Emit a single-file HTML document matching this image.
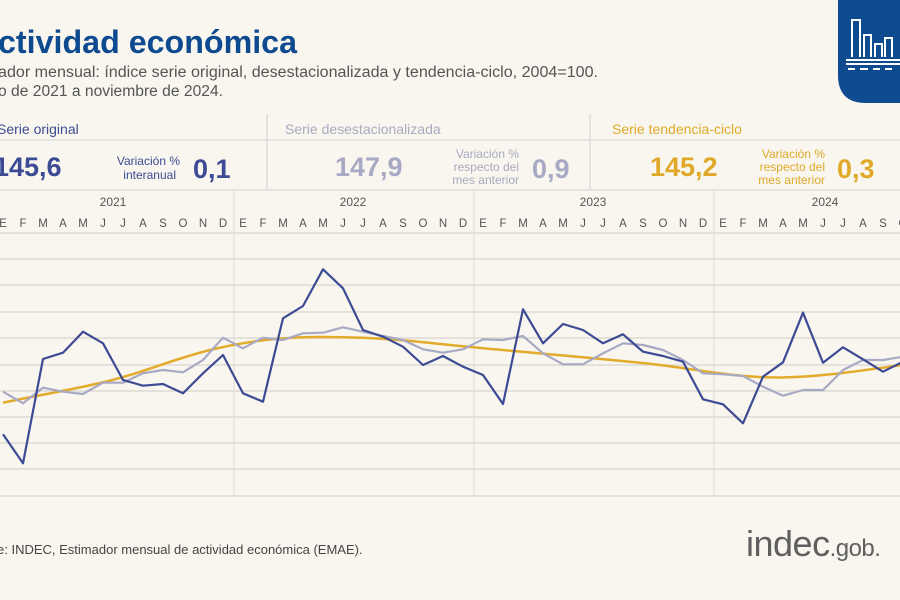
<!DOCTYPE html>
<html><head><meta charset="utf-8"><style>
html,body{margin:0;padding:0;background:#f8f6ee;}
svg{display:block}
text{font-family:"Liberation Sans",sans-serif;}
</style></head><body>
<svg width="900" height="600" viewBox="0 0 900 600" xmlns="http://www.w3.org/2000/svg">
<rect width="900" height="600" fill="#f8f6ee"/>
<path d="M838 0 H900 V103 H866 Q838 103 838 75 Z" fill="#0f4c8f"/>
<g stroke="#fff" stroke-width="2" fill="none">
<path d="M852 57 V20 H860 V57 M864 57 V35 H871 V57 M875 57 V44 H882 V57 M885 57 V38 H892 V57"/>
<path d="M846 60 H900 M846 64 H900"/>
<path d="M848 69 H855 M860 69 H868 M873 69 H880 M885 69 H892"/>
</g>
<text x="-2" y="53" font-size="32" font-weight="bold" fill="#0d4a8f" textLength="299" lengthAdjust="spacingAndGlyphs">ctividad económica</text>
<text x="-2" y="77" font-size="15.5" fill="#555" textLength="600" lengthAdjust="spacingAndGlyphs">ador mensual: índice serie original, desestacionalizada y tendencia-ciclo, 2004=100.</text>
<text x="-2" y="96" font-size="15.5" fill="#555" textLength="225" lengthAdjust="spacingAndGlyphs">o de 2021 a noviembre de 2024.</text>
<g stroke="#ddd" stroke-width="1.5">
<line x1="0" y1="140" x2="900" y2="140"/>
<line x1="0" y1="190" x2="900" y2="190"/>
<line x1="267" y1="114" x2="267" y2="190"/>
<line x1="590" y1="114" x2="590" y2="190"/>
</g>
<text x="-3" y="134" font-size="14" fill="#3d4a94">Serie original</text>
<text x="285" y="134" font-size="14" fill="#aaaabf">Serie desestacionalizada</text>
<text x="612" y="134" font-size="14" fill="#e0a92a">Serie tendencia-ciclo</text>
<text x="-6" y="176" font-size="27" font-weight="bold" fill="#3d4a94">145,6</text>
<text x="180" y="165" font-size="12" fill="#3d4a94" text-anchor="end">Variación %</text>
<text x="176" y="179" font-size="12" fill="#3d4a94" text-anchor="end">interanual</text>
<text x="193" y="178" font-size="27" font-weight="bold" fill="#3d4a94">0,1</text>
<text x="335" y="176" font-size="27" font-weight="bold" fill="#a8a9c4">147,9</text>
<text x="519" y="158" font-size="12" fill="#aaaabf" text-anchor="end">Variación %</text>
<text x="519" y="171" font-size="12" fill="#aaaabf" text-anchor="end">respecto del</text>
<text x="519" y="184" font-size="12" fill="#aaaabf" text-anchor="end">mes anterior</text>
<text x="532" y="178" font-size="27" font-weight="bold" fill="#a8a9c4">0,9</text>
<text x="650" y="176" font-size="27" font-weight="bold" fill="#e0a92a">145,2</text>
<text x="825" y="158" font-size="12" fill="#e0a92a" text-anchor="end">Variación %</text>
<text x="825" y="171" font-size="12" fill="#e0a92a" text-anchor="end">respecto del</text>
<text x="825" y="184" font-size="12" fill="#e0a92a" text-anchor="end">mes anterior</text>
<text x="837" y="178" font-size="27" font-weight="bold" fill="#e0a92a">0,3</text>
<g font-size="12" fill="#555" text-anchor="middle">
<text x="113" y="206">2021</text><text x="353" y="206">2022</text><text x="593" y="206">2023</text><text x="825" y="206">2024</text>
</g>
<g font-size="11.5" fill="#555" text-anchor="middle">
<text x="3" y="227">E</text><text x="23" y="227">F</text><text x="43" y="227">M</text><text x="63" y="227">A</text><text x="83" y="227">M</text><text x="103" y="227">J</text><text x="123" y="227">J</text><text x="143" y="227">A</text><text x="163" y="227">S</text><text x="183" y="227">O</text><text x="203" y="227">N</text><text x="223" y="227">D</text>
<text x="243" y="227">E</text><text x="263" y="227">F</text><text x="283" y="227">M</text><text x="303" y="227">A</text><text x="323" y="227">M</text><text x="343" y="227">J</text><text x="363" y="227">J</text><text x="383" y="227">A</text><text x="403" y="227">S</text><text x="423" y="227">O</text><text x="443" y="227">N</text><text x="463" y="227">D</text>
<text x="483" y="227">E</text><text x="503" y="227">F</text><text x="523" y="227">M</text><text x="543" y="227">A</text><text x="563" y="227">M</text><text x="583" y="227">J</text><text x="603" y="227">J</text><text x="623" y="227">A</text><text x="643" y="227">S</text><text x="663" y="227">O</text><text x="683" y="227">N</text><text x="703" y="227">D</text>
<text x="723" y="227">E</text><text x="743" y="227">F</text><text x="763" y="227">M</text><text x="783" y="227">A</text><text x="803" y="227">M</text><text x="823" y="227">J</text><text x="843" y="227">J</text><text x="863" y="227">A</text><text x="883" y="227">S</text><text x="903" y="227">O</text>
</g>
<g stroke="#dcdad2" stroke-width="1.5">
<line x1="0" y1="233" x2="900" y2="233"/>
<line x1="0" y1="259" x2="900" y2="259"/><line x1="0" y1="285" x2="900" y2="285"/>
<line x1="0" y1="312" x2="900" y2="312"/><line x1="0" y1="338" x2="900" y2="338"/>
<line x1="0" y1="365" x2="900" y2="365"/><line x1="0" y1="391" x2="900" y2="391"/>
<line x1="0" y1="417" x2="900" y2="417"/><line x1="0" y1="443" x2="900" y2="443"/>
<line x1="0" y1="469" x2="900" y2="469"/><line x1="0" y1="496" x2="900" y2="496"/>
</g>
<g stroke="#dcdad2" stroke-width="1">
<line x1="234" y1="190" x2="234" y2="496"/><line x1="474" y1="190" x2="474" y2="496"/><line x1="714" y1="190" x2="714" y2="496"/>
</g>
<path d="M3 402.7 C40 395 70 390 100 383 C140 374 170 360 210 350 C260 338 300 336 343 337.3 C390 338 420 342 460 346 C520 352 600 358 660 365 C700 370 740 378 780 377.5 C820 377 850 372 903 365" fill="none" stroke="#e3ab2c" stroke-width="2.5"/>
<polyline fill="none" stroke="#a8a9c4" stroke-width="2.2" stroke-linejoin="round" points="3,391.7 23,403.3 43,387.7 63,391.7 83,394 103,382.7 123,382.7 143,373.3 163,370 183,372.3 203,360 223,337.7 243,348.3 263,337.7 283,340 303,333.3 323,332.7 343,327.3 363,331.7 383,336 403,340 423,349.3 443,352.7 463,349.3 483,339.3 503,340 523,336 543,353.3 563,364.3 583,364.3 603,353.3 623,343.3 643,345 663,350 683,360 703,373.3 723,374.3 743,376 763,386.7 783,395.7 803,390 823,390 843,370 863,360 883,360 903,356.7"/>
<polyline fill="none" stroke="#3d4a94" stroke-width="2.2" stroke-linejoin="round" points="3,434.3 23,463.3 43,359 63,352.7 83,331.7 103,343.3 123,380 143,385.7 163,384 183,393.3 203,373.3 223,355 243,393.3 263,401.7 283,318.3 303,306 323,269.3 343,288.3 363,330 383,336.7 403,346.7 423,365 443,356 463,366.7 483,375 503,404 523,309.3 543,343.3 563,324 583,330 603,343.3 623,334.3 643,351.7 663,356 683,361.7 703,399.3 723,404.3 743,423.3 763,376.7 783,362.3 803,312.7 823,362.7 843,347.3 863,359.3 883,371.7 903,361.7"/>
<text x="-3" y="554" font-size="13" fill="#444">e: INDEC, Estimador mensual de actividad económica (EMAE).</text>
<text x="746" y="556" font-size="36" fill="#5f5f5f" letter-spacing="-0.5">indec<tspan font-size="24">.gob.</tspan></text>
</svg>
</body></html>
